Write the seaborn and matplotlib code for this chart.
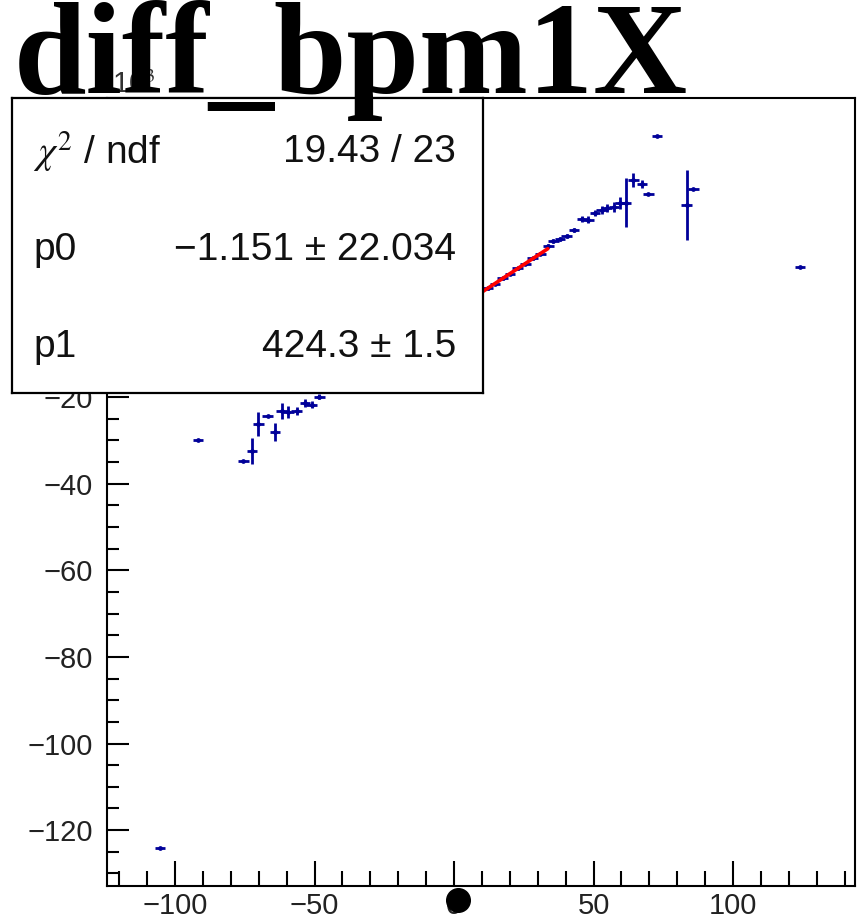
import numpy as np
import pandas as pd
import seaborn as sns
import matplotlib
matplotlib.use("Agg")
import matplotlib.pyplot as plt
from matplotlib.ticker import MultipleLocator, FixedLocator

# ---- data (y in units of 10^3) ----
x_vals = [-105.4, -91.8, -75.5, -72.5, -70.1, -66.8, -64.2, -61.8, -59.4, -56.4,
          -53.4, -51.0, -48.3,
          12.0, 14.7, 17.4, 20.1, 22.8, 25.5, 28.2, 30.9, 33.8,
          35.6, 38.0, 40.4, 43.0, 45.8, 48.1, 50.5, 52.9, 54.7, 57.3, 59.5, 61.6,
          64.3, 67.3, 69.6, 72.7, 83.4, 85.8, 124.0]
y_vals = [-124.1, -30.0, -34.7, -32.4, -26.2, -24.3, -28.0, -23.2, -23.5, -23.3,
          -21.3, -21.8, -19.9,
          5.1, 6.2, 7.4, 8.5, 9.7, 10.8, 12.0, 13.1, 14.9,
          16.1, 16.5, 17.2, 18.6, 21.1, 20.9, 22.5, 23.2, 23.6, 23.9, 24.9, 24.9,
          30.2, 29.2, 26.9, 40.3, 24.4, 28.0, 10.1]
y_errs = [0.0, 0.0, 0.0, 3.0, 2.7, 0.0, 2.1, 1.9, 1.4, 0.9,
          0.9, 0.8, 0.6,
          0.4, 0.4, 0.4, 0.4, 0.4, 0.4, 0.4, 0.4, 0.5,
          0.5, 0.5, 0.5, 0.5, 0.6, 0.8, 0.8, 0.9, 0.9, 1.2, 1.4, 5.6,
          1.6, 0.9, 0.0, 0.0, 8.1, 0.0, 0.0]
x_half_width = 1.9

# fit result
chi2, ndf = 19.43, 23
p0, p0_err = -1.151, 22.034
p1, p1_err = 424.3, 1.5
fit_range = (-30.0, 33.6)

title = "diff_bpm1X"
x_major = [-100, -50, 0, 50, 100]
y_major = [-120, -100, -80, -60, -40, -20, 0, 20, 40]

# ---- style ----
sns.set_theme(style="white")
plt.rcParams['font.family'] = ['Liberation Sans', 'DejaVu Sans']
plt.rcParams['mathtext.fontset'] = 'stix'
plt.rcParams['axes.unicode_minus'] = True

W, H = 865, 918
fig = plt.figure(figsize=(W / 100, H / 100), dpi=100)
fig.patch.set_facecolor('white')

L, R, T, B = 107, 855, 98, 886
ax = fig.add_axes([L / W, 1 - B / H, (R - L) / W, (B - T) / H])
ax.set_facecolor('white')

df = pd.DataFrame({'x': x_vals, 'y': y_vals, 'yerr': y_errs})
blue = '#000099'
ax.errorbar(df['x'], df['y'], yerr=df['yerr'], xerr=x_half_width, fmt='o',
            ms=2.4, color=blue, ecolor=blue, elinewidth=2.0, capsize=0, zorder=3)

fx = np.linspace(fit_range[0], fit_range[1], 60)
fit_df = pd.DataFrame({'x': fx, 'y': (p0 + p1 * fx) / 1000.0})
sns.lineplot(data=fit_df, x='x', y='y', color='#ff0000', lw=2.6, ax=ax, zorder=4)

ax.set_xlim(-124.4, 143.7)
ax.set_ylim(-132.9, 49.05)
ax.set_xlabel('')
ax.set_ylabel('')
ax.xaxis.set_major_locator(FixedLocator(x_major))
ax.yaxis.set_major_locator(FixedLocator(y_major))
ax.xaxis.set_minor_locator(MultipleLocator(10))
ax.yaxis.set_minor_locator(MultipleLocator(5))
ax.set_xticklabels([f"{v}".replace('-', '\u2212') for v in x_major])
ax.set_yticklabels([f"{v}".replace('-', '\u2212') for v in y_major])

for s in ax.spines.values():
    s.set_visible(True)
    s.set_color('black')
    s.set_linewidth(1.5)

ax.tick_params(axis='x', which='major', direction='in', length=18, width=1.5,
               labelsize=21, pad=4, colors='black', labelcolor='#222222',
               top=False, bottom=True)
ax.tick_params(axis='x', which='minor', direction='in', length=10.5, width=1.5,
               top=False, bottom=True, colors='black')
ax.tick_params(axis='y', which='major', direction='in', length=16, width=1.5,
               labelsize=21, pad=10, colors='black', labelcolor='#222222',
               left=True, right=False)
ax.tick_params(axis='y', which='minor', direction='in', length=8.5, width=1.5,
               left=True, right=False, colors='black')

# big black dot below the axis
ax.plot([1.4], [-136.1], 'o', color='black', ms=17, clip_on=False, zorder=20)

# x10^3 label
fig.text(95 / W, 1 - 93 / H, "\u00d710$^{3}$", fontsize=21, color='#333333',
         va='baseline', ha='left', zorder=1)

# stats box
bx0, bx1, by0, by1 = 12, 483, 98, 393
box = fig.add_axes([bx0 / W, 1 - by1 / H, (bx1 - bx0) / W, (by1 - by0) / H], zorder=10)
box.set_facecolor('white')
box.set_xticks([])
box.set_yticks([])
for s in box.spines.values():
    s.set_visible(True)
    s.set_color('black')
    s.set_linewidth(1.6)

rows = [
    ("$\\chi^{2}$ / ndf", f"{chi2:.2f} / {ndf}", 152),
    ("p0", f"\u22121.151 \u00b1 {p0_err:.3f}", 250),
    ("p1", f"{p1:.1f} \u00b1 {p1_err:.1f}", 347),
]
for lab, val, ypx in rows:
    yf = (by1 - ypx) / (by1 - by0)
    box.text((33 - bx0) / (bx1 - bx0), yf, lab, transform=box.transAxes,
             fontsize=28, ha='left', va='center', color='#111111')
    box.text((456 - bx0) / (bx1 - bx0), yf, val, transform=box.transAxes,
             fontsize=28, ha='right', va='center', color='#111111')

# title
fig.text(14 / W, 1 - 93 / H, title, fontsize=94, fontweight='bold',
         family=['Liberation Serif', 'DejaVu Serif'], color='black',
         ha='left', va='baseline', zorder=30)

fig.savefig('out.png', dpi=100, facecolor='white')
